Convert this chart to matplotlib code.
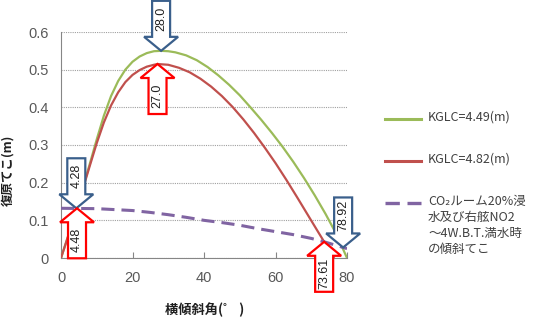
"""
復原てこ曲線 (横傾斜角 vs GZ) を描画し out.png に保存する。
"""
import numpy as np
import matplotlib
matplotlib.use('Agg')
import matplotlib.pyplot as plt
import matplotlib.transforms as mtransforms
from matplotlib.patches import Polygon
from matplotlib.lines import Line2D

# KGLC=4.49(m) の復原てこ
green_x = [0, 2, 4, 6, 8, 10, 12, 14, 16, 18, 20, 22, 24, 26, 28, 30, 32, 35,
           38, 41, 44, 47, 50, 53, 56, 59, 62, 65, 68, 71, 74, 77, 80]
green_y = [0, 0.058, 0.12, 0.183, 0.248, 0.315, 0.378, 0.43, 0.47, 0.5, 0.521,
           0.535, 0.544, 0.549, 0.55, 0.549, 0.546, 0.538, 0.525, 0.507, 0.485,
           0.46, 0.432, 0.40, 0.367, 0.332, 0.295, 0.255, 0.212, 0.166, 0.117,
           0.064, 0]

# KGLC=4.82(m) の復原てこ
red_x = [0, 2, 4, 6, 8, 10, 12, 14, 16, 18, 20, 22, 24, 26, 27, 30, 33, 36,
         39, 42, 45, 48, 51, 54, 57, 60, 63, 66, 69, 72, 73.61, 75, 76.3]
red_y = [0, 0.058, 0.12, 0.18, 0.243, 0.305, 0.36, 0.405, 0.44, 0.467, 0.486,
         0.499, 0.508, 0.513, 0.515, 0.513, 0.505, 0.493, 0.476, 0.455, 0.43,
         0.401, 0.368, 0.332, 0.293, 0.252, 0.208, 0.162, 0.115, 0.068, 0.043,
         0.021, 0]

# 浸水時の傾斜てこ (破線)
flood_x = [0, 10, 20, 25, 30, 35, 40, 45, 50, 55, 60, 65, 70, 73.61, 78.92, 80]
flood_y = [0.132, 0.131, 0.126, 0.121, 0.115, 0.108, 0.1, 0.094, 0.087, 0.078,
           0.07, 0.062, 0.052, 0.043, 0.028, 0.025]

# 矢印の注記
arrow_x = [28.0, 27.0, 4.28, 4.48, 78.92, 73.61]
arrow_y = [0.55, 0.515, 0.132, 0.132, 0.028, 0.043]
arrow_labels = ['28.0', '27.0', '4.28', '4.48', '78.92', '73.61']
arrow_dirs = ['down', 'up', 'down', 'up', 'down', 'up']

legend_labels = ['KGLC=4.49(m)', 'KGLC=4.82(m)',
                 'CO\u2082ルーム20%浸\n水及び右舷NO2\n～4W.B.T.満水時\nの傾斜てこ']

x_ticks = [0, 20, 40, 60, 80]
y_ticks = [0, 0.1, 0.2, 0.3, 0.4, 0.5, 0.6]

GREEN = '#9BBB59'
RED = '#C0504D'
PURPLE = '#8064A2'
BLUE_EDGE = '#3A5F8B'
RED_EDGE = '#FF0000'
TEXT = '#404040'

plt.rcParams['font.family'] = ['Noto Sans CJK JP', 'DejaVu Sans']


def draw_arrow(fig, ax, x, y, label, direction, length=50):
    """白抜きのブロック矢印 (ピクセル単位の形) をデータ点に描く"""
    s = -1 if direction == 'up' else 1
    bw, hw, hl = 9, 17, 14
    pts = [(0, 0), (-hw, hl), (-bw, hl), (-bw, length), (bw, length),
           (bw, hl), (hw, hl)]
    pts = [(px / 100.0, s * py / 100.0) for px, py in pts]
    trans = fig.dpi_scale_trans + mtransforms.ScaledTranslation(x, y, ax.transData)
    edge = RED_EDGE if direction == 'up' else BLUE_EDGE
    poly = Polygon(pts, closed=True, facecolor='white', edgecolor=edge,
                   linewidth=1.6, transform=trans, clip_on=False, zorder=5)
    ax.add_patch(poly)
    ax.text(0, s * (hl + length) / 200.0, label, transform=trans,
            rotation=90, ha='center', va='center', fontsize=9,
            family='Liberation Sans', color='#202020', zorder=6, clip_on=False)


def main():
    fig = plt.figure(figsize=(5.43, 3.19), dpi=100)
    ax = fig.add_axes([61 / 543, 1 - 258 / 319, 286 / 543, 226 / 319])

    ax.plot(green_x, green_y, color=GREEN, lw=1.6, zorder=3)
    ax.plot(red_x, red_y, color=RED, lw=1.6, zorder=3)
    ax.plot(flood_x, flood_y, color=PURPLE, lw=2.2, dashes=(4.3, 2.3), zorder=3)

    ax.set_xlim(0, 80)
    ax.set_ylim(0, 0.6)
    ax.set_xticks(x_ticks)
    ax.set_yticks(y_ticks)
    ax.set_yticklabels(['0' if v == 0 else f'{v:.1f}' for v in y_ticks])

    # 軸・グリッド
    for side in ['top', 'right']:
        ax.spines[side].set_visible(False)
    for side in ['left', 'bottom']:
        ax.spines[side].set_color('#868686')
        ax.spines[side].set_linewidth(0.8)
    ax.yaxis.grid(True, linestyle=(0, (1, 1)), color='#A0A0A0', lw=0.8)
    ax.set_axisbelow(True)
    ax.tick_params(axis='x', direction='in', length=4, color='#868686', pad=9)
    ax.tick_params(axis='y', direction='in', length=0, pad=9)
    for lbl in ax.get_xticklabels() + ax.get_yticklabels():
        lbl.set_family('Liberation Sans')
        lbl.set_fontsize(10.5)
        lbl.set_color('#595959')

    # 注記矢印
    for x, y, lab, d in zip(arrow_x, arrow_y, arrow_labels, arrow_dirs):
        draw_arrow(fig, ax, x, y, lab, d)

    # 軸ラベル
    fig.text(8 / 543, 1 - 170 / 319, '復原てこ(m)', rotation=90, ha='center',
             va='center', fontsize=9, fontweight='bold', color='#202020')
    fig.text(205 / 543, 1 - 310 / 319, '横傾斜角(゜ )', ha='center',
             va='center', fontsize=9.5, fontweight='bold', color='#202020')

    # 凡例 (手描き)
    W, H = 543.0, 319.0
    styles = [dict(color=GREEN, lw=2.2), dict(color=RED, lw=2.2),
              dict(color=PURPLE, lw=2.4, dashes=(4.3, 2.3))]
    ys = [119, 161, 203]
    for lab, st, yy in zip(legend_labels, styles, ys):
        fig.add_artist(Line2D([385 / W, 421 / W], [1 - yy / H] * 2, **st))
        fig.text(428 / W, 1 - (yy - 8) / H, lab, ha='left', va='top',
                 fontsize=9, color=TEXT, linespacing=1.3)

    fig.savefig('out.png', dpi=100)


if __name__ == "__main__":
    main()
